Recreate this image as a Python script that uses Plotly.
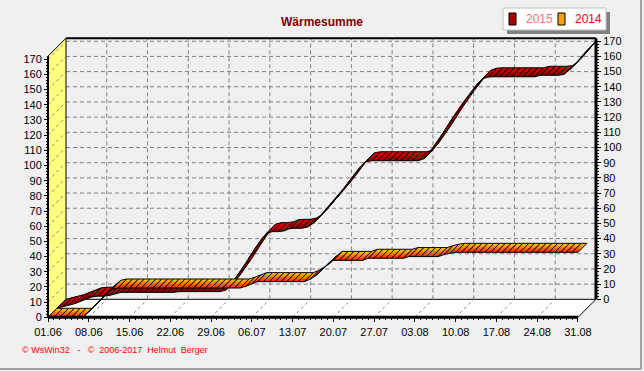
import plotly.graph_objects as go

# ---------------- data ----------------
dates = ["01.06", "02.06", "03.06", "04.06", "05.06", "06.06", "07.06",
         "08.06", "09.06", "10.06", "11.06", "12.06", "13.06", "14.06",
         "15.06", "16.06", "17.06", "18.06", "19.06", "20.06", "21.06",
         "22.06", "23.06", "24.06", "25.06", "26.06", "27.06", "28.06",
         "29.06", "30.06", "01.07", "02.07", "03.07", "04.07", "05.07",
         "06.07", "07.07", "08.07", "09.07", "10.07", "11.07", "12.07",
         "13.07", "14.07", "15.07", "16.07", "17.07", "18.07", "19.07",
         "20.07", "21.07", "22.07", "23.07", "24.07", "25.07", "26.07",
         "27.07", "28.07", "29.07", "30.07", "31.07", "01.08", "02.08",
         "03.08", "04.08", "05.08", "06.08", "07.08", "08.08", "09.08",
         "10.08", "11.08", "12.08", "13.08", "14.08", "15.08", "16.08",
         "17.08", "18.08", "19.08", "20.08", "21.08", "22.08", "23.08",
         "24.08", "25.08", "26.08", "27.08", "28.08", "29.08", "30.08",
         "31.08"]

sum_2015 = [0, 1, 2, 3, 4.5, 6, 7.5,
            8, 8, 8.5, 9.5, 10.5, 10.5, 10.5,
            10.5, 10.5, 10.5, 10.5, 10.5, 10.5, 10.5,
            11, 11, 11, 11, 11, 11, 11,
            11, 12, 16.5, 22, 27.5, 33.5, 39.5,
            45, 49.5, 50.5, 50.5, 51, 52.5, 52.7,
            52.7, 53.5, 56, 60, 64.5, 69, 73.5,
            78, 83, 88, 93, 96.5, 97.2, 97.2,
            97.2, 97.2, 97.2, 97.2, 97.2, 97.2, 97.2,
            98.5, 103, 108.5, 114, 120, 126, 131.5,
            137, 142, 147, 151, 152.3, 152.5, 152.5,
            152.5, 152.5, 152.5, 152.5, 152.5, 152.5, 153.5,
            153.5, 153.5, 153.5, 154, 157, 161, 165.5,
            170]

sum_2014 = [0, 0, 0, 0, 0, 0, 0,
            3.5, 7.5, 11.5, 15.5, 18.5, 19.3, 19.3,
            19.3, 19.3, 19.3, 19.3, 19.3, 19.3, 19.3,
            19.3, 19.3, 19.3, 19.3, 19.3, 19.3, 19.3,
            19.3, 19.3, 19.3, 19.3, 19.3, 19.3, 20.5,
            22, 23.5, 23.5, 23.5, 23.5, 23.5, 23.5,
            23.5, 23.5, 23.5, 25, 27.5, 31, 34.5,
            37.5, 37.5, 37.5, 37.5, 37.5, 37.5, 38.9,
            38.9, 38.9, 38.9, 38.9, 38.9, 38.9, 40,
            40, 40, 40, 40, 40, 41.3, 42.2,
            42.8, 42.8, 42.8, 42.8, 42.8, 42.8, 42.8,
            42.8, 42.8, 42.8, 42.8, 42.8, 42.8, 42.8,
            42.8, 42.8, 42.8, 42.8, 42.8, 42.8, 42.8,
            42.8]

series_names = ["2015", "2014"]
tick_labels = ["01.06", "08.06", "15.06", "22.06", "29.06", "06.07", "13.07",
               "20.07", "27.07", "03.08", "10.08", "17.08", "24.08", "31.08"]
y_ticks = list(range(0, 171, 10))

# ---------------- geometry (pseudo-3D projection) ----------------
W, H = 644, 371
PX_DAY = 5.824
PX_VAL = 1.518
X0_PX = 48.0
Y0_PX = 317.3
DEPTH_PX = 18.0
DX = DEPTH_PX / PX_DAY
DY = DEPTH_PX / PX_VAL
xr = [-X0_PX / PX_DAY, (W - X0_PX) / PX_DAY]
yr = [-(H - Y0_PX) / PX_VAL, Y0_PX / PX_VAL]
VMAX = 172
days = list(range(len(dates)))
N = days[-1]
week_days = [d for d in days if dates[d] in tick_labels]


def P(d, v, z):
    return d + z * DX, v + z * DY


fig = go.Figure()


def add_poly(pts, fill=None, line_color="black", width=1, dash=None, grad=None):
    xs = [p[0] if p is not None else None for p in pts]
    ys = [p[1] if p is not None else None for p in pts]
    kw = dict(x=xs, y=ys, mode="lines", hoverinfo="skip", showlegend=False,
              line=dict(color=line_color, width=width, dash=dash))
    if fill is not None:
        kw["fill"] = "toself"
        kw["fillcolor"] = fill
    if grad is not None:
        kw["fill"] = "toself"
        kw["fillgradient"] = dict(type="vertical", colorscale=grad)
    fig.add_trace(go.Scatter(**kw))


GRID = "#808080"
DASH = "4px,3px"

# back wall grid
g = []
for v in y_ticks[1:]:
    g += [P(0, v, 1), P(N, v, 1), None]
for d in week_days[1:-1]:
    g += [P(d, 0, 1), P(d, VMAX, 1), None]
add_poly(g, line_color=GRID, width=1, dash=DASH)

# left wall (yellow) and floor (white)
add_poly([P(0, 0, 0), P(0, VMAX, 0), P(0, VMAX, 1), P(0, 0, 1), P(0, 0, 0)],
         fill="#FFFF80", width=1)
add_poly([P(0, 0, 0), P(N, 0, 0), P(N, 0, 1), P(0, 0, 1), P(0, 0, 0)],
         fill="white", width=1)

# depth dashes on floor and left wall
g = []
for d in week_days[1:-1]:
    g += [P(d, 0, 0), P(d, 0, 1), None]
for v in y_ticks[1:]:
    g += [P(0, v, 0), P(0, v, 1), None]
add_poly(g, line_color=GRID, width=1, dash="3px,3px")

# back wall frame
add_poly([P(0, VMAX, 1), P(N, VMAX, 1)], width=2)
add_poly([P(N, 0, 1), P(N, VMAX, 1)], width=3)

# ribbons: back row 2015, front row 2014
ribbons = [
    (sum_2015, 0.5, 1.0, [[0, "#800000"], [1, "#E80000"]]),
    (sum_2014, 0.0, 0.5, [[0, "#FF1800"], [1, "#FFD800"]]),
]
for vals, z0, z1, cs in ribbons:
    for i in range(N):
        a = P(days[i], vals[i], z0)
        b = P(days[i + 1], vals[i + 1], z0)
        c = P(days[i + 1], vals[i + 1], z1)
        d_ = P(days[i], vals[i], z1)
        add_poly([a, b, c, d_, a], grad=cs, width=1)

# front axis lines
add_poly([P(0, 0, 0), P(0, VMAX, 0)], width=2)
add_poly([P(0, 0, 0), P(N, 0, 0)], width=3)

# dummy trace for right axis
fig.add_trace(go.Scatter(x=[0], y=[0], yaxis="y2", mode="markers",
                         marker=dict(opacity=0), hoverinfo="skip", showlegend=False))

FONT = "Liberation Sans, Arial, sans-serif"
xpos = lambda d: (d - xr[0]) / (xr[1] - xr[0])
ypos = lambda v: (v - yr[0]) / (yr[1] - yr[0])

fig.update_layout(
    width=W, height=H,
    margin=dict(l=0, r=0, t=0, b=0),
    paper_bgcolor="#F0F0F0", plot_bgcolor="#F0F0F0",
    font=dict(family=FONT, size=11, color="black"),
    showlegend=False,
    xaxis=dict(range=xr, domain=[0, 1], anchor="free", position=ypos(0),
               showgrid=False, zeroline=False, showline=False,
               tickvals=week_days, ticktext=tick_labels,
               ticks="outside", ticklen=4, tickcolor="black", tickwidth=1,
               minor=dict(tickvals=days, ticks="outside", ticklen=2, tickcolor="black"),
               tickfont=dict(size=11)),
    yaxis=dict(range=yr, domain=[0, 1], anchor="free", position=xpos(0),
               side="left", showgrid=False, zeroline=False, showline=False,
               tickvals=y_ticks, ticks="outside", ticklen=4, tickcolor="black",
               minor=dict(tickvals=list(range(0, 171, 2)), ticks="outside",
                          ticklen=2, tickcolor="black"),
               tickfont=dict(size=11)),
    yaxis2=dict(range=[yr[0] - DY, yr[1] - DY], overlaying="y", anchor="free",
                position=xpos(N + DX), side="right", showgrid=False,
                zeroline=False, showline=False, tickvals=y_ticks,
                ticks="outside", ticklen=4, tickcolor="black",
                minor=dict(tickvals=list(range(0, 171, 2)), ticks="outside",
                           ticklen=2, tickcolor="black"),
                tickfont=dict(size=11)),
)

# title
fig.add_annotation(text="<b>Wärmesumme</b>", x=0.5, y=1 - 22 / H,
                   xref="paper", yref="paper", showarrow=False,
                   xanchor="center", yanchor="middle",
                   font=dict(size=12, color="#800000", family=FONT))

# legend box
def px_rect(x0, y0, x1, y1, **kw):
    fig.add_shape(type="rect", xref="paper", yref="paper",
                  x0=x0 / W, x1=x1 / W, y0=1 - y0 / H, y1=1 - y1 / H, **kw)

px_rect(507, 12, 610, 34, fillcolor="#808080", line=dict(width=0))
px_rect(503, 8, 606, 30, fillcolor="white", line=dict(color="#C0C0C0", width=1))
px_rect(509, 13, 516, 25, fillcolor="#B00000", line=dict(color="black", width=1))
px_rect(558, 13, 565, 25, fillcolor="#FFA000", line=dict(color="black", width=1))
legend_colors = ["#FF7070", "#FF0000"]
for name, xl, col in zip(series_names, [524, 573], legend_colors):
    fig.add_annotation(text=name, x=xl / W, y=1 - 19 / H, xref="paper", yref="paper",
                       showarrow=False, xanchor="left", yanchor="middle",
                       font=dict(size=12, color=col, family=FONT))

# footer
nb = "\u00a0"
footer = f"©{nb}WsWin32{nb*3}-{nb*3}©{nb*2}2006-2017{nb*2}Helmut{nb*2}Berger"
fig.add_annotation(text=footer, x=20 / W, y=1 - 350 / H, xref="paper", yref="paper",
                   showarrow=False, xanchor="left", yanchor="middle",
                   font=dict(size=9, color="#FF0000", family=FONT))

# window border
fig.add_shape(type="line", xref="paper", yref="paper", x0=641 / W, x1=641 / W,
              y0=1 - 369 / H, y1=1, line=dict(color="#A0A0A0", width=2))
fig.add_shape(type="line", xref="paper", yref="paper", x0=0, x1=641 / W,
              y0=1 - 369 / H, y1=1 - 369 / H, line=dict(color="#A0A0A0", width=2))

fig.write_html("out.html")
